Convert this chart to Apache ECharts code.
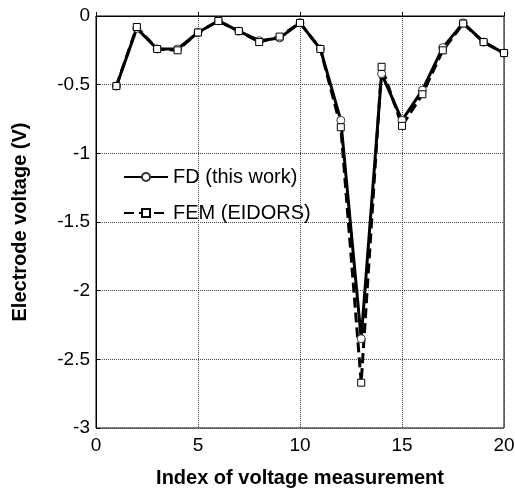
<!DOCTYPE html>
<html><head><meta charset="utf-8">
<script src="https://cdn.jsdelivr.net/npm/echarts@6/dist/echarts.min.js"></script>
<style>html,body{margin:0;padding:0;background:#fff}#c{width:515px;height:491px}</style>
</head><body><div id="c"></div>
<script>
var indices = [1,2,3,4,5,6,7,8,9,10,11,12,13,14,15,16,17,18,19,20];
var fdValues = [-0.51,-0.09,-0.24,-0.24,-0.12,-0.035,-0.11,-0.18,-0.16,-0.05,-0.24,-0.76,-2.35,-0.42,-0.76,-0.54,-0.23,-0.05,-0.19,-0.27];
var femValues = [-0.51,-0.08,-0.24,-0.25,-0.12,-0.036,-0.11,-0.19,-0.15,-0.05,-0.24,-0.81,-2.67,-0.37,-0.80,-0.57,-0.25,-0.055,-0.19,-0.27];
var seriesNames = ['FD (this work)','FEM (EIDORS)'];
var xTitle = 'Index of voltage measurement';
var yTitle = 'Electrode voltage (V)';

function pairs(v){ return indices.map(function(x,i){ return [x, v[i]]; }); }
var chart = echarts.init(document.getElementById('c'));
var font = 'Arial, "Liberation Sans", sans-serif';
chart.setOption({
  animation:false,
  grid:{left:96,right:11,top:16,bottom:63,show:true,borderColor:'#000',borderWidth:1,
    containLabel:false,outerBoundsMode:'none'},
  legend:{orient:'vertical',left:118,top:162,itemGap:16,itemWidth:44,itemHeight:10,
    textStyle:{fontFamily:font,fontSize:20,color:'#000'},
    data:seriesNames},
  xAxis:{type:'value',min:0,max:20,interval:5,
    name:xTitle,nameLocation:'middle',nameGap:40,
    nameTextStyle:{fontFamily:font,fontSize:20,fontWeight:'bold',color:'#000'},
    axisLine:{lineStyle:{color:'#000'}},
    axisTick:{inside:true,length:4,lineStyle:{color:'#000'}},
    axisLabel:{fontFamily:font,fontSize:19,color:'#000',margin:8},
    splitLine:{show:true,lineStyle:{type:[1,1],color:'#444',width:1}}},
  yAxis:{type:'value',min:-3,max:0,interval:0.5,
    name:yTitle,nameLocation:'middle',nameGap:66,nameRotate:90,
    nameTextStyle:{fontFamily:font,fontSize:20,fontWeight:'bold',color:'#000'},
    axisLine:{lineStyle:{color:'#000'}},
    axisTick:{inside:true,length:4,lineStyle:{color:'#000'}},
    axisLabel:{fontFamily:font,fontSize:19,color:'#000',margin:6},
    splitLine:{show:true,lineStyle:{type:[1,1],color:'#444',width:1}}},
  series:[
    {name:seriesNames[0],type:'line',data:pairs(fdValues),
     symbol:'circle',symbolSize:8,showAllSymbol:true,
     lineStyle:{color:'#000',width:3},
     itemStyle:{color:'#fff',borderColor:'#333',borderWidth:1}},
    {name:seriesNames[1],type:'line',data:pairs(femValues),
     symbol:'rect',symbolSize:7,showAllSymbol:true,
     lineStyle:{color:'#000',width:3,type:[10,5]},
     itemStyle:{color:'#fff',borderColor:'#000',borderWidth:1}}
  ]
});
</script></body></html>
